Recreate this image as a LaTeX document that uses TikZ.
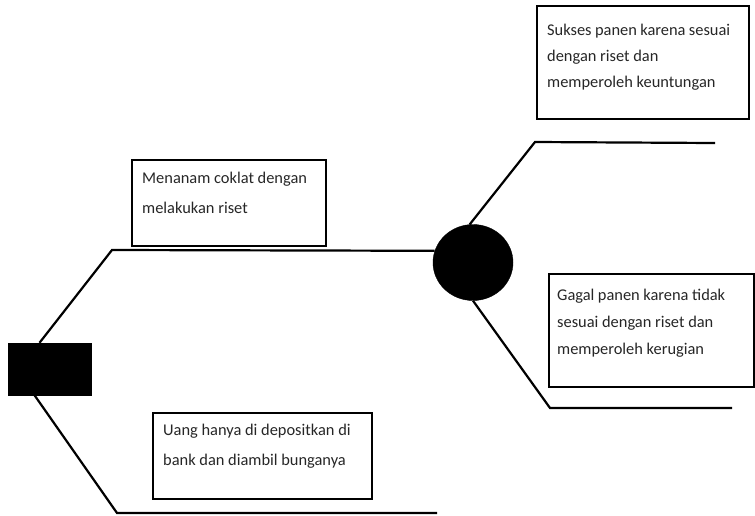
\documentclass[tikz,border=0pt]{standalone}
\usepackage{fontspec}
\setmainfont{Carlito}
\usetikzlibrary{shapes.geometric}
\begin{document}
\begin{tikzpicture}[x=1pt,y=-1pt,
  frame/.style={draw, line width=1.8pt, anchor=north west, inner sep=0pt},
  words/.style={anchor=north west, inner sep=0pt, align=left, text=black!85,
    font=\fontsize{16.4}{28}\selectfont},
  branch/.style={line width=2.2pt, line join=miter},
  decision/.style={fill=black, draw=black, minimum width=83pt, minimum height=52pt, inner sep=0pt},
  chance/.style={ellipse, fill=black, draw=black, minimum width=80pt, minimum height=76pt, inner sep=0pt}]
\useasboundingbox (0,0) rectangle (755,515);

% decision and chance nodes
\node[decision] (sq) at (49.5,369) {};
\node[chance] (ci) at (473,262.5) {};

% label boxes
\node[frame, minimum width=212pt, minimum height=113pt] (b1) at (536,5) {};
\node[words, font=\fontsize{16.4}{26}\selectfont] (t1) at (547,24)
  {\hbox to 183pt{Sukses\hfil\ panen\hfil\ karena\hfil\ sesuai}\\dengan riset dan\\memperoleh keuntungan};

\node[frame, minimum width=194pt, minimum height=86pt] (b2) at (131,159) {};
\node[words, font=\fontsize{16.4}{30}\selectfont] (t2) at (142,172) {Menanam coklat dengan\\melakukan riset};

\node[frame, minimum width=205pt, minimum height=113pt] (b3) at (548,273) {};
\node[words, font=\fontsize{16.4}{27}\selectfont] (t3) at (557,289)
  {\hbox to 168pt{Gagal\hfil\ panen\hfil\ karena\hfil\ tidak}\\sesuai dengan riset dan\\memperoleh kerugian};

\node[frame, minimum width=219pt, minimum height=86pt] (b4) at (152,412) {};
\node[words, font=\fontsize{16.4}{30}\selectfont] (t4) at (163,424) {Uang hanya di depositkan di\\bank dan diambil bunganya};

% branch end points
\coordinate (k1) at (112,250);
\coordinate (k2) at (117,513);
\coordinate (e2) at (437,513);
\coordinate (k3) at (535,142);
\coordinate (e3) at (715,143);
\coordinate (k4) at (550,408);
\coordinate (e4) at (732,408);

% branches
\draw[branch] ([xshift=-10pt]sq.north) -- (k1) -- (ci.163);
\draw[branch] ([xshift=-15pt]sq.south) -- (k2) -- (e2);
\draw[branch] (ci.95) -- (k3) -- (e3);
\draw[branch] (ci.south) -- (k4) -- (e4);
\end{tikzpicture}
\end{document}
